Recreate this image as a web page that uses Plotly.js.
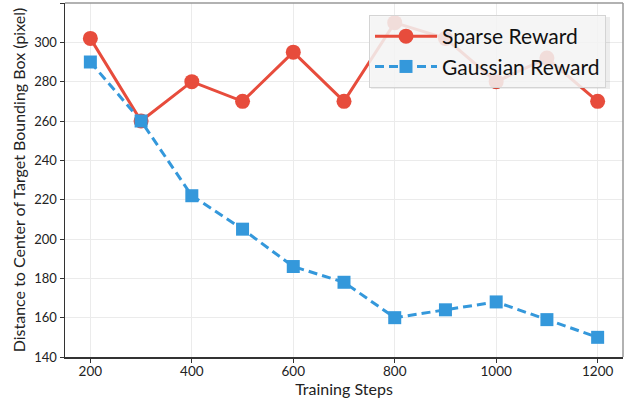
<!DOCTYPE html>
<html>
<head>
<meta charset="utf-8">
<script src="https://cdn.plot.ly/plotly-3.0.1.min.js"></script>
<style>html,body{margin:0;padding:0;background:#fff;}#chart{width:629px;height:398px;}</style>
</head>
<body>
<div id="chart"></div>
<script>
const steps = [200, 300, 400, 500, 600, 700, 800, 900, 1000, 1100, 1200];
const sparseReward = [302, 260, 280, 270, 295, 270, 310, 302, 280, 292, 270];
const gaussianReward = [290, 260, 222, 205, 186, 178, 160, 164, 168, 159, 150];
const xTicks = [200, 400, 600, 800, 1000, 1200];
const yTicks = [140, 160, 180, 200, 220, 240, 260, 280, 300, 320];

const FONT = 'Lato, "Open Sans", sans-serif';
const traces = [
  {x: steps, y: sparseReward, name: 'Sparse Reward', mode: 'lines+markers',
   line: {color: '#e74c3c', width: 3}, marker: {symbol: 'circle', size: 15, color: '#e74c3c'}},
  {x: steps, y: gaussianReward, name: 'Gaussian Reward', mode: 'lines+markers',
   line: {color: '#3498db', width: 3, dash: '9px,5px'}, marker: {symbol: 'square', size: 13, color: '#3498db'}}
];

const px = v => (v - 65) / 558, py = v => (357 - v) / 354;
const layout = {
  width: 629, height: 398,
  margin: {l: 65, r: 6, t: 3, b: 41},
  paper_bgcolor: '#fff', plot_bgcolor: '#fff',
  font: {family: FONT, size: 13, color: '#222'},
  showlegend: true,
  legend: {x: px(369), y: py(15), xanchor: 'left', yanchor: 'top', bgcolor: 'rgba(246,246,246,0.86)',
           bordercolor: '#d4d4d4', borderwidth: 1,
           font: {family: FONT, size: 21, color: '#111'}, itemwidth: 62, tracegroupgap: 0},
  xaxis: {range: [150, 1250], tickvals: xTicks, showgrid: true, gridcolor: '#ebebeb', gridwidth: 1,
          zeroline: false, showline: true, linecolor: '#333', linewidth: 1.5, ticks: 'outside', ticklen: 4,
          tickcolor: '#333', tickfont: {size: 13.5}, ticklabelstandoff: -3,
          title: {text: 'Training Steps', font: {size: 16}, standoff: 0}},
  yaxis: {range: [140, 320], tickvals: yTicks, showgrid: true, gridcolor: '#ebebeb', gridwidth: 1,
          zeroline: false, showline: true, linecolor: '#333', linewidth: 1.5, ticks: 'outside', ticklen: 4,
          tickcolor: '#333', tickfont: {size: 13}, ticklabelstandoff: 0,
          title: {text: 'Distance to Center of Target Bounding Box (pixel)', font: {size: 16}, standoff: 4}},
  shapes: [
    {type: 'line', xref: 'paper', yref: 'paper', x0: 0, x1: 1, y0: 1, y1: 1, line: {color: '#999', width: 1.5}},
    {type: 'line', xref: 'paper', yref: 'paper', x0: 1, x1: 1, y0: 0, y1: 1, line: {color: '#999', width: 1.5}},
    {type: 'rect', xref: 'paper', yref: 'paper', x0: px(371), x1: px(610), y0: py(17), y1: py(89),
     fillcolor: 'rgba(0,0,0,0.07)', line: {width: 0}, layer: 'above'}
  ]
};
Plotly.newPlot('chart', traces, layout, {displayModeBar: false, staticPlot: true});
</script>
</body>
</html>
